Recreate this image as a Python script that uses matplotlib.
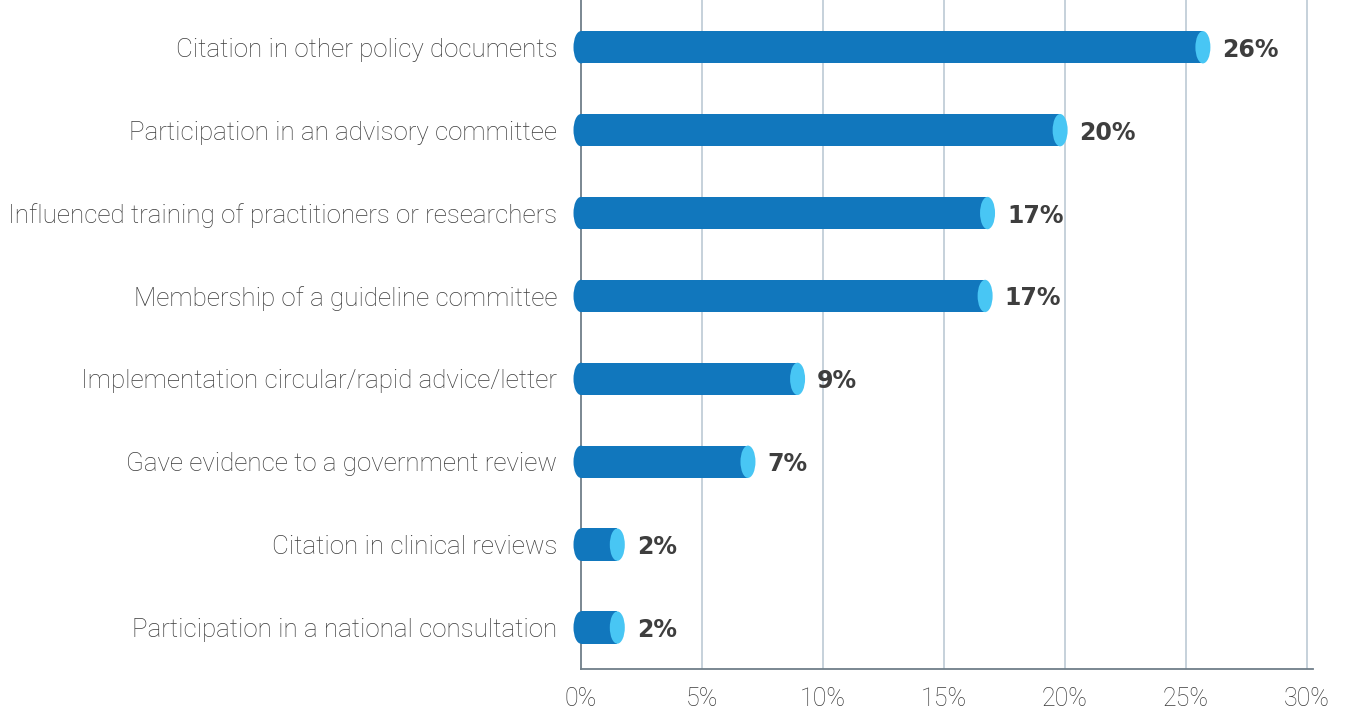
import matplotlib
matplotlib.use("Agg")
import matplotlib.pyplot as plt
from matplotlib.patches import Ellipse, Rectangle

categories = [
    "Citation in other policy documents",
    "Participation in an advisory committee",
    "Influenced training of practitioners or researchers",
    "Membership of a guideline committee",
    "Implementation circular/rapid advice/letter",
    "Gave evidence to a government review",
    "Citation in clinical reviews",
    "Participation in a national consultation",
]
values = [25.7, 19.8, 16.8, 16.7, 8.95, 6.9, 1.5, 1.5]
value_labels = ["26%", "20%", "17%", "17%", "9%", "7%", "2%", "2%"]
xticks = [0, 5, 10, 15, 20, 25, 30]
xtick_labels = ["0%", "5%", "10%", "15%", "20%", "25%", "30%"]

BODY = "#1177BD"
CAP = "#48C6F4"
GRID = "#BCC9D4"
AXIS = "#6F7E89"
TXT = "#3C3C3C"
VAL = "#3E3E3E"

fig = plt.figure(figsize=(13.51, 7.10), dpi=100)
ax = fig.add_axes([581/1351, 1 - 669/710, (1313-581)/1351, 669/710])

n = len(categories)
ys = list(range(n - 1, -1, -1))
h = 0.39
ew = 0.62  # ellipse width in data units

for y, v, lab in zip(ys, values, value_labels):
    ax.add_patch(Ellipse((0, y), ew, h, facecolor=BODY, edgecolor="none", zorder=3, clip_on=False))
    ax.add_patch(Rectangle((0, y - h/2), v, h, facecolor=BODY, edgecolor="none", zorder=3))
    ax.add_patch(Ellipse((v, y), ew, h, facecolor=CAP, edgecolor="none", zorder=4))
    ax.text(v + 0.8, y, lab, va="center_baseline", ha="left", fontsize=17,
            fontfamily="DejaVu Sans", fontweight="bold", color=VAL, zorder=5)

ax.set_xlim(0, 30.25)
ax.set_ylim(-0.5, 7.57)
ax.set_xticks(xticks)
ax.set_xticklabels(xtick_labels, fontfamily="Roboto", fontweight="light", fontsize=18, color=TXT)
ax.set_yticks(ys)
ax.set_yticklabels(categories, fontfamily="Roboto", fontweight="light", fontsize=18.7, color=TXT)
ax.tick_params(axis="both", length=0)
ax.tick_params(axis="y", pad=17)
ax.tick_params(axis="x", pad=13)

for x in xticks[1:]:
    ax.axvline(x, color=GRID, lw=1.2, zorder=1)

for s in ["top", "right"]:
    ax.spines[s].set_visible(False)
ax.spines["left"].set_color(AXIS)
ax.spines["left"].set_linewidth(1.3)
ax.spines["left"].set_zorder(2)
ax.spines["bottom"].set_color(AXIS)
ax.spines["bottom"].set_linewidth(1.3)

fig.savefig("out.png", dpi=100)
